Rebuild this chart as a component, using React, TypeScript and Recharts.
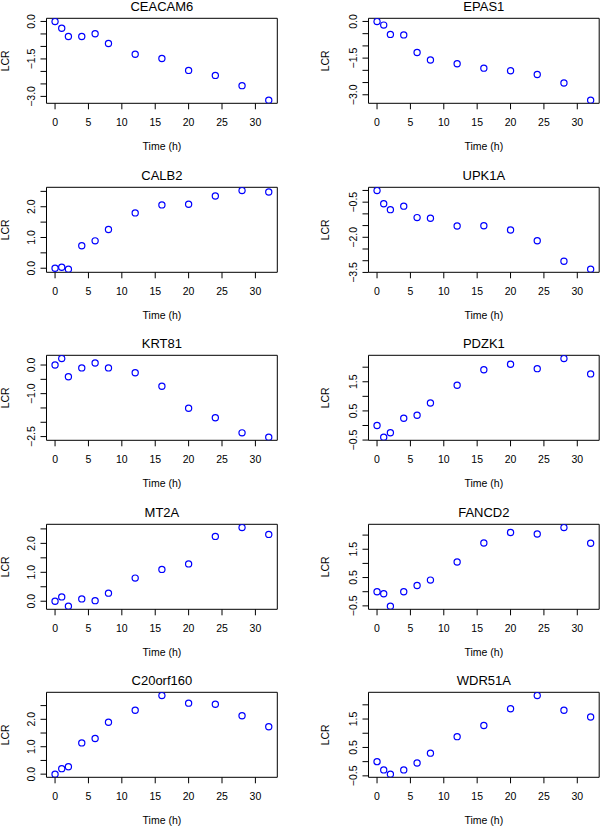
import React from "react";
import { ScatterChart, Scatter, XAxis, YAxis, ReferenceArea } from "recharts";

const TIMES = [0, 1, 2, 4, 6, 8, 12, 16, 20, 24, 28, 32];
const X_TICKS = [0, 5, 10, 15, 20, 25, 30];

const CEACAM6 = [0, -0.27, -0.6, -0.6, -0.49, -0.88, -1.31, -1.48, -1.96, -2.16, -2.57, -3.15];
const EPAS1 = [0, -0.15, -0.53, -0.55, -1.27, -1.58, -1.73, -1.91, -2.02, -2.17, -2.52, -3.22];
const CALB2 = [0, 0.03, -0.03, 0.73, 0.89, 1.26, 1.8, 2.06, 2.08, 2.35, 2.53, 2.48];
const UPK1A = [0, -0.57, -0.82, -0.67, -1.16, -1.19, -1.52, -1.51, -1.69, -2.15, -3.02, -3.36];
const KRT81 = [0, 0.23, -0.41, -0.1, 0.07, -0.1, -0.27, -0.74, -1.51, -1.84, -2.37, -2.52];
const PDZK1 = [0, -0.4, -0.25, 0.25, 0.35, 0.77, 1.38, 1.91, 2.1, 1.95, 2.3, 1.77];
const MT2A = [0, 0.15, -0.17, 0.08, 0.02, 0.28, 0.8, 1.1, 1.29, 2.24, 2.55, 2.31];
const FANCD2 = [0, -0.07, -0.51, 0, 0.22, 0.41, 1.05, 1.72, 2.09, 2.04, 2.27, 1.71];
const C20orf160 = [0, 0.2, 0.27, 1.14, 1.3, 1.89, 2.33, 2.87, 2.59, 2.55, 2.13, 1.73];
const WDR51A = [0, -0.29, -0.44, -0.29, -0.05, 0.3, 0.88, 1.27, 1.86, 2.33, 1.81, 1.57];

const TICKS_NEG30 = [0, -0.5, -1, -1.5, -2, -2.5, -3];
const TICKS_NEG35 = [0, -0.5, -1, -1.5, -2, -2.5, -3, -3.5];
const TICKS_NEG25 = [0, -0.5, -1, -1.5, -2, -2.5];
const TICKS_POS25 = [0, 0.5, 1, 1.5, 2, 2.5];
const TICKS_POS20 = [-0.5, 0, 0.5, 1, 1.5, 2];

const LABELS_CEACAM6 = [0, -1.5, -3];
const LABELS_EPAS1 = [0, -1.5, -3];
const LABELS_CALB2 = [0, 1, 2];
const LABELS_UPK1A = [-0.5, -2, -3.5];
const LABELS_KRT81 = [0, -1, -2.5];
const LABELS_PDZK1 = [-0.5, 0.5, 1.5];
const LABELS_MT2A = [0, 1, 2];
const LABELS_FANCD2 = [-0.5, 0.5, 1.5];
const LABELS_C20 = [0, 1, 2];
const LABELS_WDR51A = [-0.5, 0.5, 1.5];

const PANELS = [
  { name: "CEACAM6", values: CEACAM6, ticks: TICKS_NEG30, labels: LABELS_CEACAM6 },
  { name: "EPAS1", values: EPAS1, ticks: TICKS_NEG30, labels: LABELS_EPAS1 },
  { name: "CALB2", values: CALB2, ticks: TICKS_POS25, labels: LABELS_CALB2 },
  { name: "UPK1A", values: UPK1A, ticks: TICKS_NEG35, labels: LABELS_UPK1A },
  { name: "KRT81", values: KRT81, ticks: TICKS_NEG25, labels: LABELS_KRT81 },
  { name: "PDZK1", values: PDZK1, ticks: TICKS_POS20, labels: LABELS_PDZK1 },
  { name: "MT2A", values: MT2A, ticks: TICKS_POS25, labels: LABELS_MT2A },
  { name: "FANCD2", values: FANCD2, ticks: TICKS_POS20, labels: LABELS_FANCD2 },
  { name: "C20orf160", values: C20orf160, ticks: TICKS_POS25, labels: LABELS_C20 },
  { name: "WDR51A", values: WDR51A, ticks: TICKS_POS20, labels: LABELS_WDR51A },
];

const FONT = "'Liberation Sans', Arial, Helvetica, sans-serif";
const BLUE = "#0000ff";
const FS = 10.5;

const X_DOMAIN: [number, number] = [0 - 0.04 * 32, 32 + 0.04 * 32];

const ROW_H = 168.5;
const BOX_TOP = 18.3;
const BOX_H = 85;
const YAXIS_W = 46.5;
const COL_LEFT = [0, 322.3];
const COL_W = [300, 277.7];
const MARGIN_R = [22.7, 0.5];

function fmt(v: number) {
  const s = Math.abs(v).toFixed(1);
  return v < 0 ? "\u2212" + s : s;
}

function makeYTick(labels: number[]) {
  return (props: any) => {
    const { x, y, payload } = props;
    const v = payload.value;
    if (!labels.some((l) => Math.abs(l - v) < 1e-9)) return <g />;
    return (
      <text
        x={x}
        y={y}
        transform={`rotate(-90, ${x}, ${y})`}
        textAnchor="middle"
        fontSize={FS}
        fontFamily={FONT}
        fill="#000"
      >
        {fmt(v)}
      </text>
    );
  };
}

const Circle = (props: any) => {
  const { cx, cy } = props;
  if (cx == null || cy == null) return <g />;
  return <circle cx={cx} cy={cy} r={3.1} fill="none" stroke={BLUE} strokeWidth={1.2} />;
};

function Panel({ idx }: { idx: number }) {
  const p = PANELS[idx];
  const row = Math.floor(idx / 2);
  const col = idx % 2;
  const data = TIMES.map((t, i) => ({ t, v: p.values[i] }));
  const mn = Math.min(...p.values);
  const mx = Math.max(...p.values);
  const r = mx - mn;
  const yDomain: [number, number] = [mn - 0.04 * r, mx + 0.04 * r];
  const width = COL_W[col];
  const height = 168;
  const left = COL_LEFT[col];
  const top = ROW_H * row;
  const boxLeft = YAXIS_W;
  const boxRight = width - MARGIN_R[col];
  const boxCx = (boxLeft + boxRight) / 2;
  const boxBottom = BOX_TOP + BOX_H;
  const labelX = col === 0 ? 5 : 3;
  return (
    <div style={{ position: "absolute", left, top, width, height }}>
      <ScatterChart
        width={width}
        height={height}
        margin={{ top: BOX_TOP, right: MARGIN_R[col], left: 0, bottom: 0 }}
      >
        <XAxis
          type="number"
          dataKey="t"
          domain={X_DOMAIN}
          ticks={X_TICKS}
          interval={0}
          allowDataOverflow
          axisLine={false}
          tickLine={{ stroke: "#000" }}
          tickSize={6}
          tickMargin={9.5}
          height={height - BOX_TOP - BOX_H}
          tick={{ fontSize: FS, fill: "#000", fontFamily: FONT }}
        />
        <YAxis
          type="number"
          dataKey="v"
          domain={yDomain}
          ticks={p.ticks}
          interval={0}
          allowDataOverflow
          axisLine={false}
          tickLine={{ stroke: "#000" }}
          tickSize={6}
          tickMargin={5.5}
          width={YAXIS_W}
          tick={makeYTick(p.labels)}
        />
        <ReferenceArea
          x1={X_DOMAIN[0]}
          x2={X_DOMAIN[1]}
          y1={yDomain[0]}
          y2={yDomain[1]}
          fill="none"
          fillOpacity={0}
          stroke="#000"
          strokeWidth={1}
          ifOverflow="visible"
        />
        <Scatter data={data} shape={Circle} isAnimationActive={false} />
      </ScatterChart>
      <svg
        width={width}
        height={height}
        style={{ position: "absolute", left: 0, top: 0, pointerEvents: "none", overflow: "visible" }}
      >
        <text
          x={boxCx}
          y={BOX_TOP - 7.6}
          textAnchor="middle"
          fontSize={13}
          fontFamily={FONT}
          fill="#000"
        >
          {p.name}
        </text>
        <text
          x={boxCx}
          y={boxBottom + 46.8}
          textAnchor="middle"
          fontSize={FS}
          fontFamily={FONT}
          fill="#000"
        >
          Time (h)
        </text>
        <text
          x={labelX + 4}
          y={BOX_TOP + BOX_H / 2}
          transform={`rotate(-90, ${labelX + 4}, ${BOX_TOP + BOX_H / 2})`}
          textAnchor="middle"
          fontSize={FS}
          fontFamily={FONT}
          fill="#000"
        >
          LCR
        </text>
      </svg>
    </div>
  );
}

export default function App() {
  return (
    <div
      style={{
        position: "absolute",
        left: 0,
        top: 0,
        width: 600,
        height: 826,
        overflow: "hidden",
        background: "#fff",
      }}
    >
      {PANELS.map((_, i) => (
        <Panel key={i} idx={i} />
      ))}
    </div>
  );
}
